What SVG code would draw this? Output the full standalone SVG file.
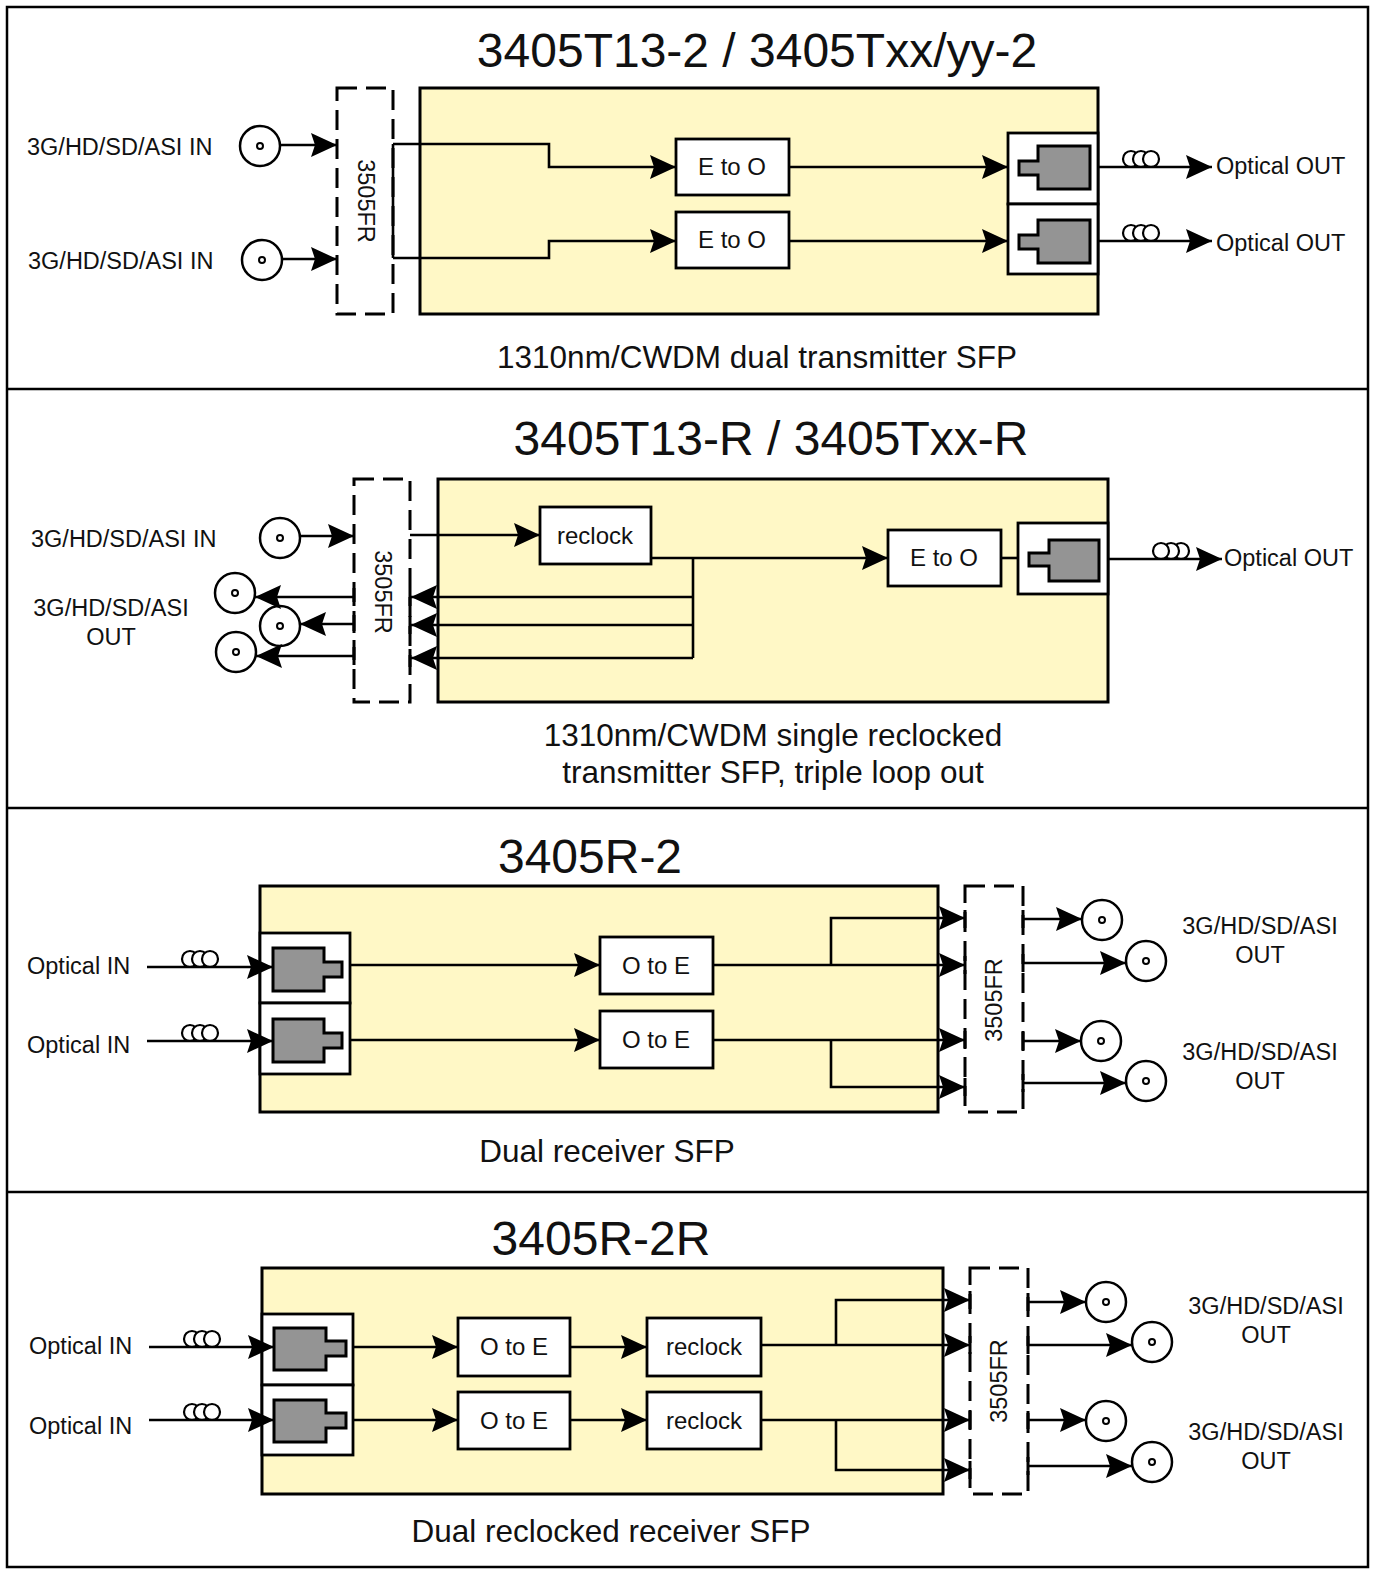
<svg xmlns="http://www.w3.org/2000/svg" width="1373" height="1572" viewBox="0 0 1373 1572">
<defs>
<style>
.frame{fill:none;stroke:#000;stroke-width:2.5}
.card{fill:#FFF8C6;stroke:#000;stroke-width:3}
.box{fill:#fff;stroke:#000;stroke-width:2.8}
.conn{fill:#949494;stroke:#000;stroke-width:3}
.dash{fill:none;stroke:#000;stroke-width:3;stroke-dasharray:20 9}
.tick{stroke:#000;stroke-width:3}
.ln{fill:none;stroke:#000;stroke-width:2.6}
.ar{fill:none;stroke:#000;stroke-width:2.6;marker-end:url(#ah)}
.coax{fill:#fff;stroke:#000;stroke-width:2.5}
.dot{fill:#fff;stroke:#000;stroke-width:2}
.coil{fill:#fff;stroke:#000;stroke-width:2.2}
text{font-family:"Liberation Sans",Arial,sans-serif;fill:#111}
.title{font-size:48px;text-anchor:middle}
.cap{font-size:31.5px;text-anchor:middle}
.lbl{font-size:23.5px}
.lblc{font-size:23.5px;text-anchor:middle}
.bt{font-size:24px;text-anchor:middle}
</style>
<marker id="ah" markerUnits="userSpaceOnUse" markerWidth="26" markerHeight="24" viewBox="0 0 26 24" refX="26" refY="12" orient="auto">
<path d="M0,0 L26,12 L0,24 L4,12 Z" fill="#000"/>
</marker>
</defs>
<rect width="1373" height="1572" fill="#fff"/>
<g id="frame">
<rect class="frame" x="7" y="7" width="1361" height="1560"/>
<line class="frame" x1="7" y1="389" x2="1368" y2="389"/>
<line class="frame" x1="7" y1="808" x2="1368" y2="808"/>
<line class="frame" x1="7" y1="1192" x2="1368" y2="1192"/>
</g>

<!-- ============ PANEL 1 ============ -->
<g id="p1-title"><text class="title" x="757" y="67">3405T13-2 / 3405Txx/yy-2</text></g>
<g id="p1-caption"><text class="cap" x="757" y="368">1310nm/CWDM dual transmitter SFP</text></g>
<g id="p1-in1"><circle class="coax" cx="260" cy="146" r="20"/><circle class="dot" cx="260" cy="146" r="3"/><text class="lbl" x="27" y="155">3G/HD/SD/ASI IN</text></g>
<g id="p1-in2"><circle class="coax" cx="262" cy="260" r="20"/><circle class="dot" cx="262" cy="260" r="3"/><text class="lbl" x="28" y="269">3G/HD/SD/ASI IN</text></g>
<g id="p1-card"><rect class="card" x="420" y="88" width="678" height="226"/></g>
<g id="p1-3505fr"><rect class="dash" x="337" y="88" width="56" height="226"/><text class="lbl" transform="translate(358,201) rotate(90)" text-anchor="middle">3505FR</text></g>
<g id="p1-eo1"><rect class="box" x="676" y="139" width="113" height="56"/><text class="bt" x="732" y="175">E to O</text></g>
<g id="p1-eo2"><rect class="box" x="676" y="212" width="113" height="56"/><text class="bt" x="732" y="248">E to O</text></g>
<g id="p1-sfp1"><rect class="box" x="1008" y="133" width="90" height="71"/><path class="conn" d="M1038,146 H1090 V189 H1038 V175 H1019 V161 H1038 Z"/></g>
<g id="p1-sfp2"><rect class="box" x="1008" y="204" width="90" height="70"/><path class="conn" d="M1038,220 H1090 V263 H1038 V249 H1019 V235 H1038 Z"/></g>
<g id="p1-out1"><circle class="coil" cx="1131" cy="159" r="8"/><circle class="coil" cx="1141" cy="159" r="8"/><circle class="coil" cx="1151" cy="159" r="8"/><text class="lbl" x="1216" y="174">Optical OUT</text></g>
<g id="p1-out2"><circle class="coil" cx="1131" cy="233" r="8"/><circle class="coil" cx="1141" cy="233" r="8"/><circle class="coil" cx="1151" cy="233" r="8"/><text class="lbl" x="1216" y="251">Optical OUT</text></g>

<!-- ============ PANEL 2 ============ -->
<g id="p2-title"><text class="title" x="771" y="455">3405T13-R / 3405Txx-R</text></g>
<g id="p2-caption"><text class="cap" x="773" y="746">1310nm/CWDM single reclocked</text><text class="cap" x="773" y="783">transmitter SFP, triple loop out</text></g>
<g id="p2-in"><circle class="coax" cx="280" cy="538" r="20"/><circle class="dot" cx="280" cy="538" r="3"/><text class="lbl" x="31" y="547">3G/HD/SD/ASI IN</text></g>
<g id="p2-outs">
<circle class="coax" cx="235" cy="593" r="20"/><circle class="dot" cx="235" cy="593" r="3"/>
<circle class="coax" cx="236" cy="652" r="20"/><circle class="dot" cx="236" cy="652" r="3"/>
<circle class="coax" cx="280" cy="626" r="20"/><circle class="dot" cx="280" cy="626" r="3"/>
<text class="lblc" x="111" y="616">3G/HD/SD/ASI</text><text class="lblc" x="111" y="645">OUT</text>
</g>
<g id="p2-card"><rect class="card" x="438" y="479" width="670" height="223"/></g>
<g id="p2-3505fr"><rect class="dash" x="354" y="479" width="56" height="223"/><text class="lbl" transform="translate(375,592) rotate(90)" text-anchor="middle">3505FR</text>
<line class="tick" x1="354" y1="588" x2="354" y2="606"/><line class="tick" x1="354" y1="615" x2="354" y2="633"/><line class="tick" x1="354" y1="647" x2="354" y2="665"/>
<line class="tick" x1="410" y1="588" x2="410" y2="606"/><line class="tick" x1="410" y1="616" x2="410" y2="634"/><line class="tick" x1="410" y1="649" x2="410" y2="667"/>
</g>
<g id="p2-reclock"><rect class="box" x="540" y="507" width="111" height="57"/><text class="bt" x="595" y="544">reclock</text></g>
<g id="p2-eo"><rect class="box" x="888" y="530" width="113" height="56"/><text class="bt" x="944" y="566">E to O</text></g>
<g id="p2-sfp"><rect class="box" x="1018" y="523" width="90" height="71"/><path class="conn" d="M1049,540 H1099 V581 H1049 V566 H1029 V553 H1049 Z"/></g>
<g id="p2-out"><circle class="coil" cx="1181" cy="551" r="8"/><circle class="coil" cx="1171" cy="551" r="8"/><circle class="coil" cx="1161" cy="551" r="8"/><text class="lbl" x="1224" y="566">Optical OUT</text></g>

<!-- ============ PANEL 3 ============ -->
<g id="p3-title"><text class="title" x="590" y="873">3405R-2</text></g>
<g id="p3-caption"><text class="cap" x="607" y="1162">Dual receiver SFP</text></g>
<g id="p3-in1"><circle class="coil" cx="190" cy="959" r="8"/><circle class="coil" cx="200" cy="959" r="8"/><circle class="coil" cx="210" cy="959" r="8"/><text class="lbl" x="27" y="974">Optical IN</text></g>
<g id="p3-in2"><circle class="coil" cx="190" cy="1033" r="8"/><circle class="coil" cx="200" cy="1033" r="8"/><circle class="coil" cx="210" cy="1033" r="8"/><text class="lbl" x="27" y="1053">Optical IN</text></g>
<g id="p3-card"><rect class="card" x="260" y="886" width="678" height="226"/></g>
<g id="p3-sfp1"><rect class="box" x="260" y="933" width="90" height="70"/><path class="conn" d="M273,948 H324 V962 H342 V977 H324 V991 H273 Z"/></g>
<g id="p3-sfp2"><rect class="box" x="260" y="1003" width="90" height="71"/><path class="conn" d="M273,1019 H324 V1033 H342 V1048 H324 V1062 H273 Z"/></g>
<g id="p3-oe1"><rect class="box" x="600" y="937" width="113" height="57"/><text class="bt" x="656" y="974">O to E</text></g>
<g id="p3-oe2"><rect class="box" x="600" y="1011" width="113" height="57"/><text class="bt" x="656" y="1048">O to E</text></g>
<g id="p3-3505fr"><rect class="dash" x="965" y="886" width="58" height="226"/><text class="lbl" transform="translate(1002,1000) rotate(-90)" text-anchor="middle">3505FR</text>
<line class="tick" x1="1023" y1="910" x2="1023" y2="928"/><line class="tick" x1="1023" y1="954" x2="1023" y2="972"/><line class="tick" x1="1023" y1="1032" x2="1023" y2="1050"/><line class="tick" x1="1023" y1="1074" x2="1023" y2="1092"/>
<line class="tick" x1="965" y1="910" x2="965" y2="928"/><line class="tick" x1="965" y1="956" x2="965" y2="974"/><line class="tick" x1="965" y1="1031" x2="965" y2="1049"/><line class="tick" x1="965" y1="1078" x2="965" y2="1096"/>
</g>
<g id="p3-outs">
<circle class="coax" cx="1102" cy="920" r="20"/><circle class="dot" cx="1102" cy="920" r="3"/>
<circle class="coax" cx="1146" cy="961" r="20"/><circle class="dot" cx="1146" cy="961" r="3"/>
<circle class="coax" cx="1101" cy="1041" r="20"/><circle class="dot" cx="1101" cy="1041" r="3"/>
<circle class="coax" cx="1146" cy="1081" r="20"/><circle class="dot" cx="1146" cy="1081" r="3"/>
<text class="lblc" x="1260" y="934">3G/HD/SD/ASI</text><text class="lblc" x="1260" y="963">OUT</text>
<text class="lblc" x="1260" y="1060">3G/HD/SD/ASI</text><text class="lblc" x="1260" y="1089">OUT</text>
</g>

<!-- ============ PANEL 4 ============ -->
<g id="p4-title"><text class="title" x="601" y="1255">3405R-2R</text></g>
<g id="p4-caption"><text class="cap" x="611" y="1542">Dual reclocked receiver SFP</text></g>
<g id="p4-in1"><circle class="coil" cx="192" cy="1339" r="8"/><circle class="coil" cx="202" cy="1339" r="8"/><circle class="coil" cx="212" cy="1339" r="8"/><text class="lbl" x="29" y="1354">Optical IN</text></g>
<g id="p4-in2"><circle class="coil" cx="192" cy="1412" r="8"/><circle class="coil" cx="202" cy="1412" r="8"/><circle class="coil" cx="212" cy="1412" r="8"/><text class="lbl" x="29" y="1434">Optical IN</text></g>
<g id="p4-card"><rect class="card" x="262" y="1268" width="681" height="226"/></g>
<g id="p4-sfp1"><rect class="box" x="262" y="1314" width="91" height="71"/><path class="conn" d="M274,1328 H326 V1341 H346 V1356 H326 V1370 H274 Z"/></g>
<g id="p4-sfp2"><rect class="box" x="262" y="1385" width="91" height="70"/><path class="conn" d="M274,1400 H326 V1413 H346 V1428 H326 V1442 H274 Z"/></g>
<g id="p4-oe1"><rect class="box" x="458" y="1318" width="112" height="58"/><text class="bt" x="514" y="1355">O to E</text></g>
<g id="p4-oe2"><rect class="box" x="458" y="1392" width="112" height="57"/><text class="bt" x="514" y="1429">O to E</text></g>
<g id="p4-rc1"><rect class="box" x="647" y="1318" width="114" height="58"/><text class="bt" x="704" y="1355">reclock</text></g>
<g id="p4-rc2"><rect class="box" x="647" y="1392" width="114" height="57"/><text class="bt" x="704" y="1429">reclock</text></g>
<g id="p4-3505fr"><rect class="dash" x="970" y="1268" width="58" height="226"/><text class="lbl" transform="translate(1007,1381) rotate(-90)" text-anchor="middle">3505FR</text>
<line class="tick" x1="1028" y1="1293" x2="1028" y2="1311"/><line class="tick" x1="1028" y1="1336" x2="1028" y2="1354"/><line class="tick" x1="1028" y1="1411" x2="1028" y2="1429"/><line class="tick" x1="1028" y1="1457" x2="1028" y2="1475"/>
<line class="tick" x1="970" y1="1291" x2="970" y2="1309"/><line class="tick" x1="970" y1="1336" x2="970" y2="1354"/><line class="tick" x1="970" y1="1411" x2="970" y2="1429"/><line class="tick" x1="970" y1="1461" x2="970" y2="1479"/>
</g>
<g id="p4-outs">
<circle class="coax" cx="1106" cy="1302" r="20"/><circle class="dot" cx="1106" cy="1302" r="3"/>
<circle class="coax" cx="1152" cy="1342" r="20"/><circle class="dot" cx="1152" cy="1342" r="3"/>
<circle class="coax" cx="1106" cy="1421" r="20"/><circle class="dot" cx="1106" cy="1421" r="3"/>
<circle class="coax" cx="1152" cy="1462" r="20"/><circle class="dot" cx="1152" cy="1462" r="3"/>
<text class="lblc" x="1266" y="1314">3G/HD/SD/ASI</text><text class="lblc" x="1266" y="1343">OUT</text>
<text class="lblc" x="1266" y="1440">3G/HD/SD/ASI</text><text class="lblc" x="1266" y="1469">OUT</text>
</g>

<!-- ============ CONNECTORS ============ -->
<g id="connectors">
<!-- panel 1 -->
<line class="ar" x1="280" y1="145" x2="337" y2="145"/>
<line class="ar" x1="282" y1="259" x2="337" y2="259"/>
<line class="ln" x1="393" y1="144" x2="393" y2="258"/>
<polyline class="ar" points="393,144 549,144 549,167 676,167"/>
<polyline class="ar" points="393,258 549,258 549,241 676,241"/>
<line class="ar" x1="789" y1="167" x2="1008" y2="167"/>
<line class="ar" x1="789" y1="241" x2="1008" y2="241"/>
<line class="ar" x1="1098" y1="167" x2="1212" y2="167"/>
<line class="ar" x1="1098" y1="241" x2="1212" y2="241"/>
<!-- panel 2 -->
<line class="ar" x1="300" y1="536" x2="354" y2="536"/>
<line class="ar" x1="354" y1="597" x2="255" y2="597"/>
<line class="ar" x1="354" y1="624" x2="300" y2="624"/>
<line class="ar" x1="354" y1="656" x2="256" y2="656"/>
<line class="ar" x1="410" y1="535" x2="540" y2="535"/>
<line class="ar" x1="651" y1="558" x2="888" y2="558"/>
<line class="ln" x1="693" y1="558" x2="693" y2="658"/>
<line class="ar" x1="693" y1="597" x2="411" y2="597"/>
<line class="ar" x1="693" y1="625" x2="411" y2="625"/>
<line class="ar" x1="693" y1="658" x2="411" y2="658"/>
<line class="ln" x1="1001" y1="558" x2="1018" y2="558"/>
<line class="ar" x1="1108" y1="559" x2="1222" y2="559"/>
<!-- panel 3 -->
<line class="ar" x1="147" y1="967" x2="273" y2="967"/>
<line class="ar" x1="147" y1="1041" x2="273" y2="1041"/>
<line class="ar" x1="350" y1="965" x2="600" y2="965"/>
<line class="ar" x1="350" y1="1040" x2="600" y2="1040"/>
<line class="ar" x1="713" y1="965" x2="965" y2="965"/>
<polyline class="ar" points="831,965 831,918 965,918"/>
<line class="ar" x1="713" y1="1040" x2="965" y2="1040"/>
<polyline class="ar" points="831,1040 831,1087 965,1087"/>
<line class="ar" x1="1023" y1="919" x2="1082" y2="919"/>
<line class="ar" x1="1023" y1="963" x2="1126" y2="963"/>
<line class="ar" x1="1023" y1="1041" x2="1081" y2="1041"/>
<line class="ar" x1="1023" y1="1083" x2="1126" y2="1083"/>
<!-- panel 4 -->
<line class="ar" x1="149" y1="1347" x2="274" y2="1347"/>
<line class="ar" x1="149" y1="1420" x2="274" y2="1420"/>
<line class="ar" x1="353" y1="1347" x2="458" y2="1347"/>
<line class="ar" x1="353" y1="1420" x2="458" y2="1420"/>
<line class="ar" x1="570" y1="1347" x2="647" y2="1347"/>
<line class="ar" x1="570" y1="1420" x2="647" y2="1420"/>
<line class="ar" x1="761" y1="1345" x2="970" y2="1345"/>
<polyline class="ar" points="836,1345 836,1300 970,1300"/>
<line class="ar" x1="761" y1="1420" x2="970" y2="1420"/>
<polyline class="ar" points="836,1420 836,1470 970,1470"/>
<line class="ar" x1="1028" y1="1302" x2="1086" y2="1302"/>
<line class="ar" x1="1028" y1="1345" x2="1132" y2="1345"/>
<line class="ar" x1="1028" y1="1420" x2="1086" y2="1420"/>
<line class="ar" x1="1028" y1="1466" x2="1132" y2="1466"/>
</g>
</svg>
